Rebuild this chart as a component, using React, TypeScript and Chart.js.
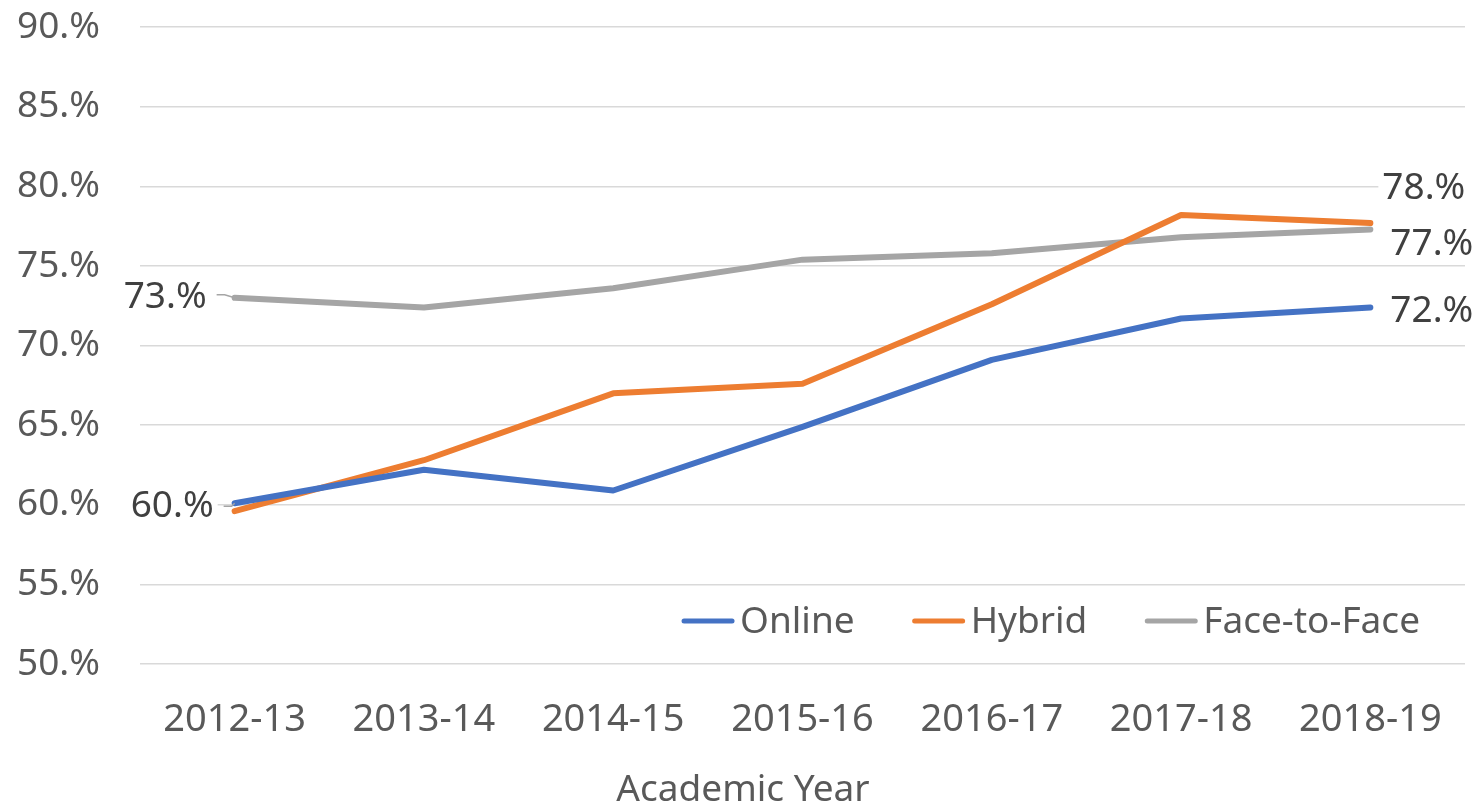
import React, { useEffect, useRef } from "react";
import { Chart, registerables } from "chart.js";

Chart.register(...registerables);

const categories = ["2012-13", "2013-14", "2014-15", "2015-16", "2016-17", "2017-18", "2018-19"];
const online = [60.1, 62.2, 60.9, 64.9, 69.1, 71.7, 72.4];
const hybrid = [59.6, 62.8, 67.0, 67.6, 72.6, 78.2, 77.7];
const faceToFace = [73.0, 72.4, 73.6, 75.4, 75.8, 76.8, 77.3];
const seriesNames = ["Online", "Hybrid", "Face-to-Face"];
const seriesColors = ["#4472C4", "#ED7D31", "#A5A5A5"];
const yMin = 50;
const yMax = 90;
const yStep = 5;
const axisTitle = "Academic Year";

const TEXT = "#595959";
const FONT = '"Noto Sans", "Open Sans", sans-serif';

const fmt = (v: number) => `${Math.round(v)}.%`;

// which labels to draw: [datasetIndex, pointIndex, dx, dy, align, leader]
const labelSpecs: Array<[number, number, number, number, CanvasTextAlign, boolean]> = [
  [0, 0, -21, 3, "right", true],
  [2, 0, -28, 0, "right", true],
  [1, 6, 12, -35, "left", false],
  [2, 6, 20, 15, "left", false],
  [0, 6, 20, 4, "left", false],
];

const dataLabelPlugin = {
  id: "dataLabels",
  afterDatasetsDraw(chart: any) {
    const { ctx } = chart;
    ctx.save();
    ctx.font = `37px ${FONT}`;
    ctx.textBaseline = "middle";
    for (const [di, pi, dx, dy, align, leader] of labelSpecs) {
      const meta = chart.getDatasetMeta(di);
      const pt = meta.data[pi];
      const value = chart.data.datasets[di].data[pi] as number;
      const text = fmt(value);
      const w = ctx.measureText(text).width;
      const tx = pt.x + dx;
      const ty = pt.y + dy;
      const left = align === "right" ? tx - w : tx;
      ctx.fillStyle = "#FFFFFF";
      ctx.fillRect(left - 4, ty - 20, w + 8, 40);
      if (leader) {
        ctx.strokeStyle = "#A5A5A5";
        ctx.lineWidth = 1.5;
        ctx.beginPath();
        ctx.moveTo(tx + 10, ty - (dy === 0 ? 3 : 0));
        ctx.lineTo(tx + 18, ty - (dy === 0 ? 3 : 0));
        ctx.lineTo(pt.x, pt.y);
        ctx.stroke();
      }
      ctx.fillStyle = "#404040";
      ctx.textAlign = align;
      ctx.fillText(text, tx, ty);
    }
    ctx.restore();
  },
};

const legendPlugin = {
  id: "insideLegend",
  afterDatasetsDraw(chart: any) {
    const { ctx, chartArea } = chart;
    ctx.save();
    ctx.font = `37px ${FONT}`;
    ctx.textBaseline = "middle";
    ctx.textAlign = "left";
    const lineLen = 54;
    const gap = 5;
    const itemGap = 57;
    const widths = seriesNames.map((n) => ctx.measureText(n).width);
    const total =
      widths.reduce((a, b) => a + b, 0) +
      seriesNames.length * (lineLen + gap) +
      (seriesNames.length - 1) * itemGap;
    let x = chartArea.right - 45 - total;
    const y = chartArea.bottom - 43;
    seriesNames.forEach((name, i) => {
      ctx.strokeStyle = seriesColors[i];
      ctx.lineWidth = 5;
      ctx.lineCap = "round";
      ctx.beginPath();
      ctx.moveTo(x + 3, y);
      ctx.lineTo(x + lineLen - 3, y);
      ctx.stroke();
      x += lineLen + gap;
      ctx.fillStyle = TEXT;
      ctx.fillText(name, x, y + 1);
      x += widths[i] + itemGap;
    });
    ctx.restore();
  },
};

const axisTitlePlugin = {
  id: "axisTitle",
  afterDraw(chart: any) {
    const { ctx, width, chartArea } = chart;
    ctx.save();
    ctx.font = `37px ${FONT}`;
    ctx.fillStyle = TEXT;
    ctx.textAlign = "center";
    ctx.textBaseline = "middle";
    ctx.fillText(axisTitle, width / 2 + 4, chartArea.bottom + 126);
    ctx.restore();
  },
};

export default function App() {
  const ref = useRef<HTMLCanvasElement | null>(null);

  useEffect(() => {
    if (!ref.current) return;
    const seriesData = [online, hybrid, faceToFace];
    const chart = new Chart(ref.current, {
      type: "line",
      data: {
        labels: categories,
        datasets: seriesNames.map((name, i) => ({
          label: name,
          data: seriesData[i],
          borderColor: seriesColors[i],
          backgroundColor: seriesColors[i],
          borderWidth: 6,
          borderCapStyle: "round",
          borderJoinStyle: "round",
          pointRadius: 0,
          pointHoverRadius: 0,
          tension: 0,
          fill: false,
        })),
      },
      options: {
        responsive: false,
        animation: false,
        events: [],
        layout: { padding: { left: 0, right: 13, top: 0, bottom: 0 } },
        scales: {
          x: {
            offset: true,
            grid: { display: false, drawTicks: false },
            border: { display: false },
            ticks: {
              color: TEXT,
              font: { family: FONT, size: 38 },
              padding: 33,
              maxRotation: 0,
              autoSkip: false,
            },
            afterFit: (s: any) => {
              s.height = 146;
            },
          },
          y: {
            min: yMin,
            max: yMax,
            grid: {
              color: "#D9D9D9",
              lineWidth: 1.5,
              drawTicks: true,
              tickLength: 35,
              tickColor: "rgba(0,0,0,0)",
            },
            border: { display: false },
            ticks: {
              stepSize: yStep,
              color: TEXT,
              font: { family: FONT, size: 37 },
              padding: 5,
              callback: (v: any) => fmt(Number(v)),
            },
            afterFit: (s: any) => {
              s.width = 140;
            },
          },
        },
        plugins: {
          legend: { display: false },
          tooltip: { enabled: false },
          title: { display: false },
        },
      },
      plugins: [dataLabelPlugin, legendPlugin, axisTitlePlugin],
    });
    return () => chart.destroy();
  }, []);

  return (
    <div style={{ position: "absolute", left: 0, top: 0, width: 1478, height: 810, background: "#fff" }}>
      <canvas ref={ref} width={1478} height={810} />
    </div>
  );
}
